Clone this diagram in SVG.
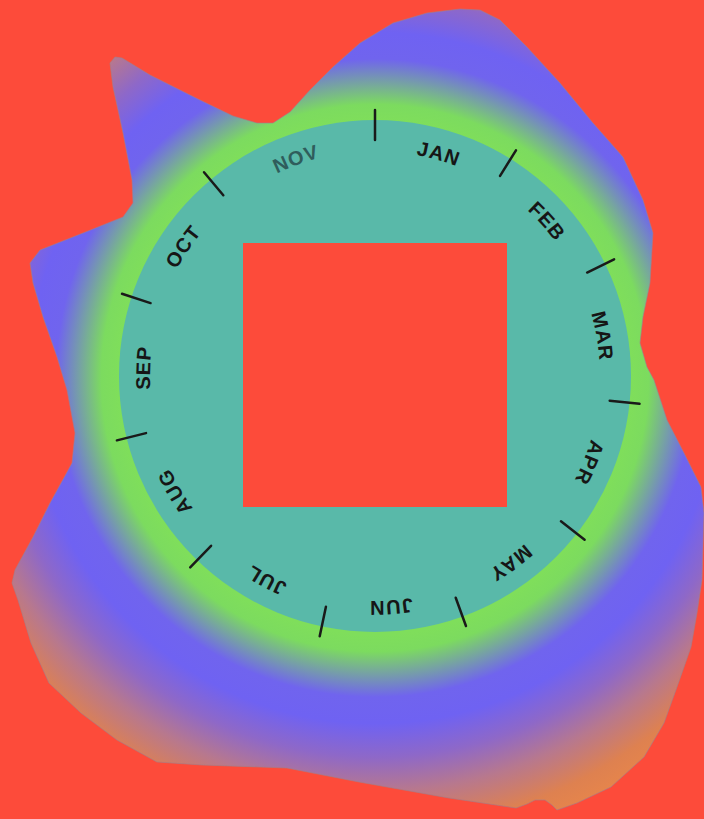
<svg xmlns="http://www.w3.org/2000/svg" width="704" height="819" viewBox="0 0 704 819">
  <style>
    .month { font-family: "Liberation Sans", Arial, sans-serif; font-weight: bold; font-size: 20px; letter-spacing: 1px; fill: #161616; }
    .month.dim { fill: #2f5d5c; }
    .tick { stroke: #1a1a1a; stroke-width: 2.5; stroke-linecap: round; }
  </style>
  <defs>
    <radialGradient id="glow" gradientUnits="userSpaceOnUse" cx="375" cy="378" r="480">
      <stop offset="0" stop-color="#7fde5b"/>
      <stop offset="0.535" stop-color="#7fde5b"/>
      <stop offset="0.57" stop-color="#7cdb5f"/>
      <stop offset="0.665" stop-color="#7064ee"/>
      <stop offset="0.72" stop-color="#6f62f2"/>
      <stop offset="0.79" stop-color="#8e68c8"/>
      <stop offset="0.86" stop-color="#b7788e"/>
      <stop offset="0.94" stop-color="#de8150"/>
      <stop offset="1" stop-color="#e8864a"/>
    </radialGradient>
    <path id="labelPath" d="M375,151 A225,225 0 0,1 375,601 A225,225 0 0,1 375,151"/>
  </defs>

  <rect id="background" x="0" y="0" width="704" height="819" fill="#fd4b3a"/>

  <g id="blob">
    <path fill="url(#glow)" stroke="#a07f8c" stroke-width="1" stroke-opacity="0.6" stroke-linejoin="round"
      d="M110,63 L115,57 L122,58 L150,75 L200,100 L233,116 L257,123 L273,123 L290,112 L310,90 L333,67 L360,43 L393,23 L427,13 L460,9 L480,10 L500,20 L527,47 L560,83 L593,123 L623,157 L643,200 L653,233 L650,283 L643,317 L640,343 L647,367 L654,380 L667,420 L684,453 L701,487 L704,513 L702,580 L697,613 L691,647 L677,687 L664,723 L644,757 L611,787 L577,803 L557,810 L552,805 L545,800 L535,800 L527,804 L516,808 L449,798 L359,782 L287,768 L202,765 L157,762 L117,740 L81,713 L49,683 L31,643 L18,600 L12,583 L15,570 L33,537 L50,503 L72,463 L75,433 L67,390 L57,357 L43,317 L33,283 L30,263 L40,250 L83,233 L123,217 L133,203 L132,180 L123,133 L113,87 Z"/>
  </g>

  <g id="dial">
    <circle cx="375" cy="376" r="256" fill="#59b9a9"/>
  </g>

  <g id="window">
    <rect x="243" y="243" width="264" height="264" fill="#fd4b3a"/>
  </g>

  <g id="ticks">
    <line class="tick" x1="375" y1="110" x2="375" y2="140" transform="rotate(0 375 376)"/>
    <line class="tick" x1="375" y1="110" x2="375" y2="140" transform="rotate(32 375 376)"/>
    <line class="tick" x1="375" y1="110" x2="375" y2="140" transform="rotate(64 375 376)"/>
    <line class="tick" x1="375" y1="110" x2="375" y2="140" transform="rotate(96 375 376)"/>
    <line class="tick" x1="375" y1="110" x2="375" y2="140" transform="rotate(128 375 376)"/>
    <line class="tick" x1="375" y1="110" x2="375" y2="140" transform="rotate(160 375 376)"/>
    <line class="tick" x1="375" y1="110" x2="375" y2="140" transform="rotate(192 375 376)"/>
    <line class="tick" x1="375" y1="110" x2="375" y2="140" transform="rotate(224 375 376)"/>
    <line class="tick" x1="375" y1="110" x2="375" y2="140" transform="rotate(256 375 376)"/>
    <line class="tick" x1="375" y1="110" x2="375" y2="140" transform="rotate(288 375 376)"/>
    <line class="tick" x1="375" y1="110" x2="375" y2="140" transform="rotate(320 375 376)"/>
  </g>

  <g id="months">
    <g id="m-jan"><text class="month" text-anchor="middle"><textPath href="#labelPath" startOffset="4.444%">JAN</textPath></text></g>
    <g id="m-feb"><text class="month" text-anchor="middle"><textPath href="#labelPath" startOffset="13.333%">FEB</textPath></text></g>
    <g id="m-mar"><text class="month" text-anchor="middle"><textPath href="#labelPath" startOffset="22.222%">MAR</textPath></text></g>
    <g id="m-apr"><text class="month" text-anchor="middle"><textPath href="#labelPath" startOffset="31.111%">APR</textPath></text></g>
    <g id="m-may"><text class="month" text-anchor="middle"><textPath href="#labelPath" startOffset="40%">MAY</textPath></text></g>
    <g id="m-jun"><text class="month" text-anchor="middle"><textPath href="#labelPath" startOffset="48.889%">JUN</textPath></text></g>
    <g id="m-jul"><text class="month" text-anchor="middle"><textPath href="#labelPath" startOffset="57.778%">JUL</textPath></text></g>
    <g id="m-aug"><text class="month" text-anchor="middle"><textPath href="#labelPath" startOffset="66.667%">AUG</textPath></text></g>
    <g id="m-sep"><text class="month" text-anchor="middle"><textPath href="#labelPath" startOffset="75.556%">SEP</textPath></text></g>
    <g id="m-oct"><text class="month" text-anchor="middle"><textPath href="#labelPath" startOffset="84.444%">OCT</textPath></text></g>
    <g id="m-nov"><text class="month dim" text-anchor="middle"><textPath href="#labelPath" startOffset="94.444%">NOV</textPath></text></g>
  </g>
</svg>
